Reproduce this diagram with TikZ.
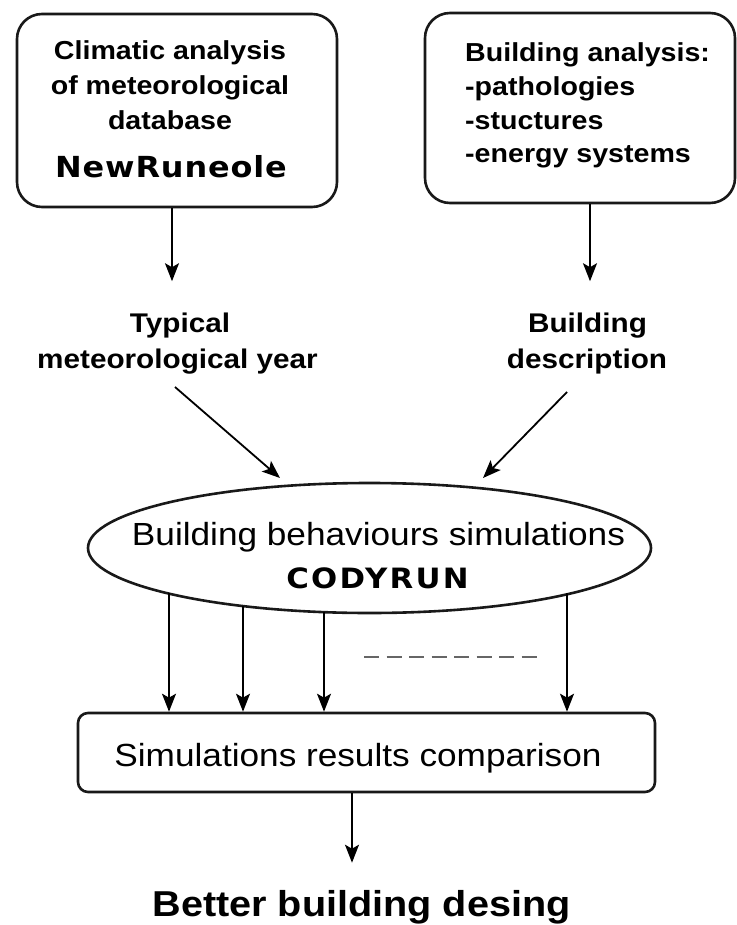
\documentclass[tikz,border=0pt]{standalone}
\usepackage{fontspec}
\setmainfont[FakeStretch=1.1]{Liberation Sans}
\newfontfamily\widefont[FakeStretch=1.1,LetterSpace=3]{DejaVu Sans}
\usetikzlibrary{shapes.geometric,arrows.meta}
\tikzset{
  boxline/.style={draw=black!90, line width=2.6pt, fill=white},
  tbox/.style={boxline, rounded corners=25pt, inner sep=0pt},
  arr/.style={line width=1.8pt, -{Stealth[length=18pt,width=14pt,inset=4pt]}},
  txt/.style={anchor=base, inner sep=0pt, text=black},
}
\begin{document}
\begin{tikzpicture}[x=1pt,y=-1pt]
\useasboundingbox (0,0) rectangle (736,925);
\fill[white] (0,0) rectangle (736,925);

% top boxes
\node[tbox, minimum width=320, minimum height=193] (lbox) at (177,110.5) {};
\node[tbox, minimum width=310, minimum height=190] (rbox) at (580,108) {};

\node[txt, font=\fontsize{26}{30}\selectfont\bfseries] (l1) at (170,60) {Climatic analysis};
\node[txt, font=\fontsize{26}{30}\selectfont\bfseries] (l2) at (170,95) {of meteorological};
\node[txt, font=\fontsize{26}{30}\selectfont\bfseries] (l3) at (170,130) {database};
\node[txt, font=\fontsize{29}{32}\selectfont\widefont\bfseries] (l4) at (171,178) {NewRuneole};

\node[txt, anchor=base west, font=\fontsize{26}{30}\selectfont\bfseries] (r1) at (465,62) {Building analysis:};
\node[txt, anchor=base west, font=\fontsize{26}{30}\selectfont\bfseries] (r2) at (465,96) {-pathologies};
\node[txt, anchor=base west, font=\fontsize{26}{30}\selectfont\bfseries] (r3) at (465,129.5) {-stuctures};
\node[txt, anchor=base west, font=\fontsize{26}{30}\selectfont\bfseries] (r4) at (465,163) {-energy systems};

% middle labels
\node[txt, font=\fontsize{27}{30}\selectfont\bfseries] (typ) at (180,332) {Typical};
\node[txt, font=\fontsize{27}{30}\selectfont\bfseries] (mety) at (177.5,368) {meteorological year};
\node[txt, font=\fontsize{27}{30}\selectfont\bfseries] (bld) at (587.5,332) {Building};
\node[txt, font=\fontsize{27}{30}\selectfont\bfseries] (desc) at (587,368) {description};

\draw[arr, shorten >=31pt] ([xshift=-5pt]lbox.south) -- ([xshift=-5pt]lbox.south |- typ.north);
\draw[arr, shorten >=31pt] ([xshift=10pt]rbox.south) -- ([xshift=10pt]rbox.south |- bld.north);

% ellipse
\node[ellipse, boxline, minimum width=563, minimum height=130, inner sep=0pt] (ell) at (369.5,548) {};
\node[txt, font=\fontsize{32}{35}\selectfont] (e1) at (378.5,545) {Building behaviours simulations};
\node[txt, font=\fontsize{28}{30}\selectfont\widefont\bfseries\addfontfeature{LetterSpace=8}] (e2) at (377.5,588) {CODYRUN};

\coordinate (d1s) at (175,387);
\coordinate (d2s) at (567,392);
\coordinate (d1e) at (280,478);
\coordinate (d2e) at (483,478);
\draw[arr] (d1s) -- (d1e);
\draw[arr] (d2s) -- (d2e);

% results box
\node[boxline, rounded corners=10pt, minimum width=577, minimum height=79, inner sep=0pt] (res) at (366.5,752.5) {};
\node[txt, font=\fontsize{32}{36}\selectfont] (rt) at (358,766) {Simulations results comparison};

\coordinate (v1) at (169,593);
\coordinate (v2) at (243,606);
\coordinate (v3) at (324,612);
\coordinate (v4) at (567,593);
\foreach \v in {v1,v2,v3,v4}
  \draw[arr] (\v) -- (\v |- res.north);

\coordinate (dsh1) at (364,657);
\coordinate (dsh2) at (537,657);
\draw[draw=black!60, line width=2pt, dash pattern=on 15pt off 7.5pt] (dsh1) -- (dsh2);

% final
\node[txt, font=\fontsize{36}{40}\selectfont\bfseries] (better) at (361.5,916) {Better building desing};
\draw[arr, shorten >=27pt] ([xshift=-14.5pt]res.south) -- ([xshift=-14.5pt]res.south |- better.north);
\end{tikzpicture}
\end{document}
